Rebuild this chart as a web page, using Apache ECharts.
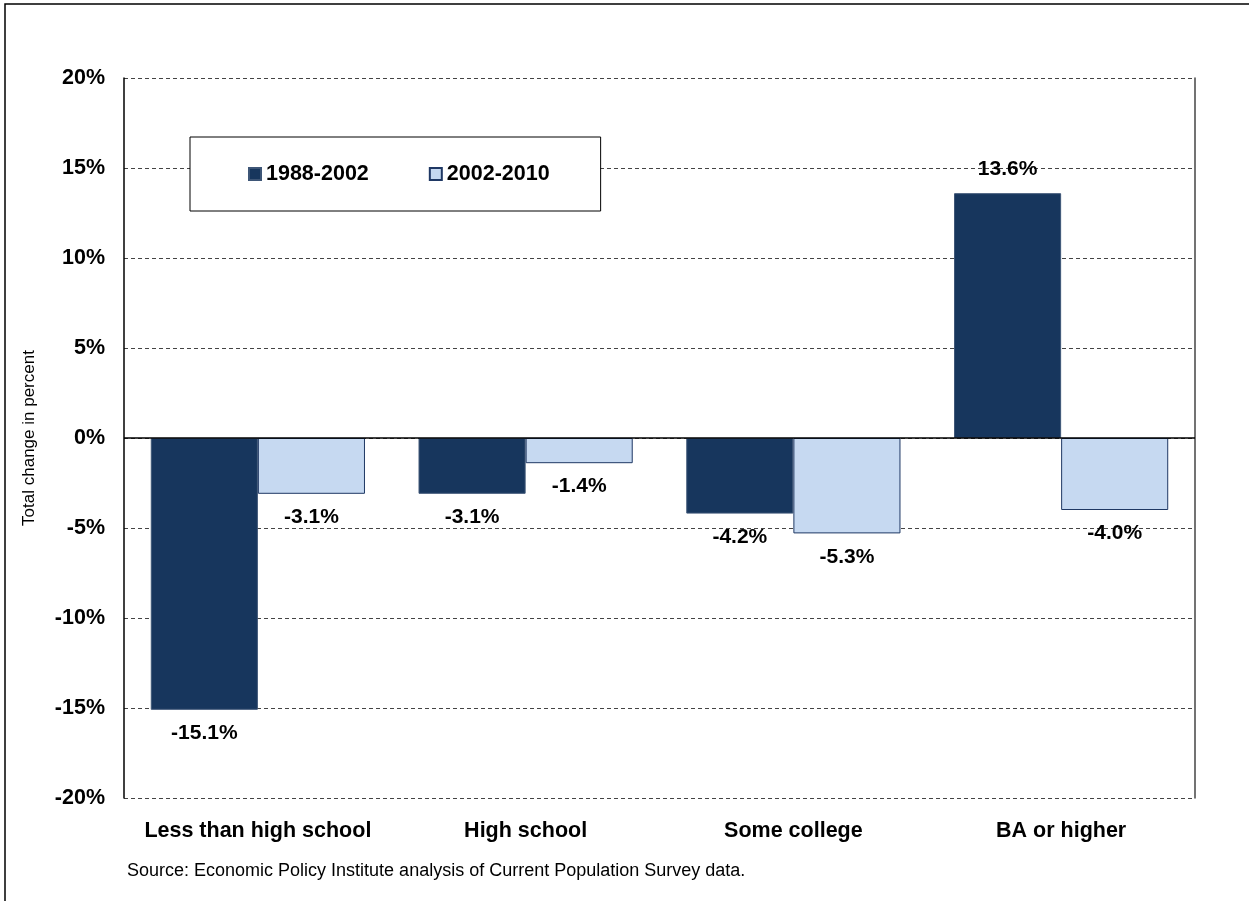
<!DOCTYPE html>
<html>
<head>
<meta charset="utf-8">
<script src="https://cdn.jsdelivr.net/npm/echarts@6/dist/echarts.min.js"></script>
<style>
  html, body { margin: 0; padding: 0; background: #fff; }
  #chart { width: 1249px; height: 901px; }
</style>
</head>
<body>
<div id="chart"></div>
<script>
const categories = ['Less than high school', 'High school', 'Some college', 'BA or higher']
const seriesNames = ['1988-2002', '2002-2010']
const early = [-15.1, -3.1, -4.2, 13.6]
const late = [-3.1, -1.4, -5.3, -4.0]
const sourceNote = 'Source: Economic Policy Institute analysis of Current Population Survey data.'

const FONT = '"Liberation Sans", Arial, sans-serif'

const chart = echarts.init(document.getElementById('chart'))

const labelFor = (v) => ({
  show: true,
  position: v < 0 ? 'bottom' : 'top',
  distance: 13,
  formatter: v.toFixed(1) + '%',
  color: '#000',
  fontFamily: FONT,
  fontWeight: 'bold',
  fontSize: 21
})

chart.setOption({
  animation: false,
  textStyle: { fontFamily: FONT },
  title: {
    text: sourceNote,
    left: 122,
    top: 857,
    textStyle: { fontFamily: FONT, fontSize: 18, fontWeight: 'normal', color: '#000' }
  },
  graphic: [{
    type: 'rect',
    shape: { x: 5, y: 4, width: 1400, height: 1000 },
    style: { fill: 'none', stroke: '#000', lineWidth: 1.5 },
    silent: true
  }],
  legend: {
    left: 190,
    top: 137,
    padding: [26, 51, 26, 58],
    backgroundColor: '#fff',
    borderColor: '#000',
    borderWidth: 1,
    itemWidth: 12,
    itemHeight: 12,
    itemGap: 60,
    icon: 'rect',
    textStyle: { fontFamily: FONT, fontSize: 21.5, fontWeight: 'bold', color: '#000' },
    data: seriesNames
  },
  grid: { left: 124, right: 54, top: 78, bottom: 103 },
  xAxis: {
    type: 'category',
    data: categories,
    axisLine: { onZero: false, show: false },
    axisTick: { show: false },
    axisLabel: { interval: 0, margin: 22, color: '#000', fontFamily: FONT, fontWeight: 'bold', fontSize: 21.5 }
  },
  yAxis: [{
    type: 'value',
    min: -20,
    max: 20,
    interval: 5,
    name: 'Total change in percent',
    nameLocation: 'middle',
    nameGap: 86,
    nameTextStyle: { fontFamily: FONT, fontSize: 17, color: '#000' },
    axisLine: { show: true, lineStyle: { color: '#000', width: 1.5 } },
    axisTick: { show: false },
    axisLabel: { formatter: '{value}%', margin: 19, color: '#000', fontFamily: FONT, fontWeight: 'bold', fontSize: 21.5 },
    splitLine: { show: true, lineStyle: { color: '#444', width: 1, type: [4, 3] } }
  }, {
    type: 'value',
    min: -20,
    max: 20,
    interval: 5,
    position: 'right',
    axisLine: { show: true, lineStyle: { color: '#444', width: 1.5 } },
    axisTick: { show: false },
    axisLabel: { show: false },
    splitLine: { show: false }
  }],
  series: [{
    name: seriesNames[0],
    type: 'bar',
    barGap: '0%',
    barCategoryGap: '20%',
    itemStyle: { color: '#17365d', borderColor: '#3e5677', borderWidth: 1 },
    data: early.map(v => ({ value: v, label: labelFor(v) })),
    markLine: {
      silent: true,
      symbol: 'none',
      label: { show: false },
      lineStyle: { color: '#000', width: 1.5, type: 'solid' },
      data: [{ yAxis: 0 }]
    }
  }, {
    name: seriesNames[1],
    type: 'bar',
    barGap: '0%',
    barCategoryGap: '20%',
    itemStyle: { color: '#c6d9f1', borderColor: '#1f3864', borderWidth: 1 },
    data: late.map(v => ({ value: v, label: labelFor(v) }))
  }]
})
</script>
</body>
</html>
